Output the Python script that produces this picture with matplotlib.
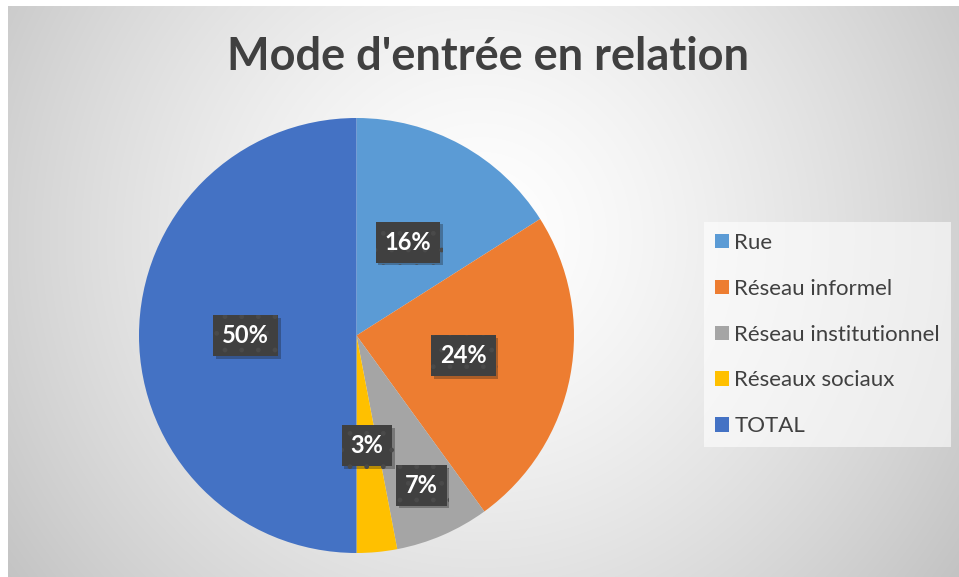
import matplotlib.pyplot as plt
import matplotlib.patheffects as pe
import numpy as np

# Data
categories = ['Rue', 'Réseau informel', 'Réseau institutionnel', 'Réseaux sociaux', 'TOTAL']
shares = [16, 24, 7, 3, 50]
colors = ['#5B9BD5', '#ED7D31', '#A5A5A5', '#FFC000', '#4472C4']
title = "Mode d'entrée en relation"

plt.rcParams['font.family'] = ['Lato', 'DejaVu Sans']

W, H = 959, 577
fig = plt.figure(figsize=(W / 100, H / 100), dpi=100)
fig.patch.set_facecolor('white')

# Radial grey gradient background of the chart area
bg = fig.add_axes([8 / W, 0, 1 - 8 / W, 1 - 6 / H])
yy, xx = np.mgrid[0:H - 6, 8:W]
d = np.sqrt((xx - 480) ** 2 + (yy - 230) ** 2) / 600
shade = 255 - 62 * np.clip(d, 0, 1.1) ** 1.4
img = np.dstack([shade, shade, shade]) / 255
bg.imshow(img, aspect='auto', interpolation='bilinear')
bg.axis('off')

fig.text(488 / W, 1 - 57 / H, title, ha='center', va='center',
         fontsize=32.5, fontweight='bold', color='#404040')

# Pie
cx, cy, r = 356.5, 335.5, 217.5
ax = fig.add_axes([(cx - r) / W, (H - cy - r) / H, 2 * r / W, 2 * r / H])
wedges, _ = ax.pie(shares, colors=colors, startangle=90, counterclock=False,
                   wedgeprops=dict(linewidth=0))
ax.set_xlim(-1, 1)
ax.set_ylim(-1, 1)
ax.set_aspect('equal')
ax.axis('off')

plt.rcParams['hatch.linewidth'] = 1.0
label_dist = [0.49, 0.5, 0.75, 0.51, 0.51]
for w, val, rd in zip(wedges, shares, label_dist):
    ang = np.deg2rad((w.theta1 + w.theta2) / 2)
    t = ax.text(rd * np.cos(ang), rd * np.sin(ang), f'{val}%', ha='center', va='center',
                fontsize=17, fontweight='bold', color='white',
                bbox=dict(boxstyle='square,pad=0.38', facecolor='#404040',
                          edgecolor='#4a4a4a', linewidth=0, hatch='.'))
    t.get_bbox_patch().set_path_effects([
        pe.SimplePatchShadow(offset=(2, -2), alpha=0.3), pe.Normal()])

leg = fig.legend(wedges, categories, loc='upper left',
                 bbox_to_anchor=(704 / W, 1 - 222 / H), borderaxespad=0,
                 fontsize=16, frameon=True, fancybox=False, labelcolor='#404040',
                 handlelength=0.62, handleheight=0.62, handletextpad=0.25,
                 labelspacing=1.16, borderpad=0.5)
frame = leg.get_frame()
frame.set_facecolor('white')
frame.set_alpha(0.6)
frame.set_linewidth(0)

fig.savefig('out.png', dpi=100)
